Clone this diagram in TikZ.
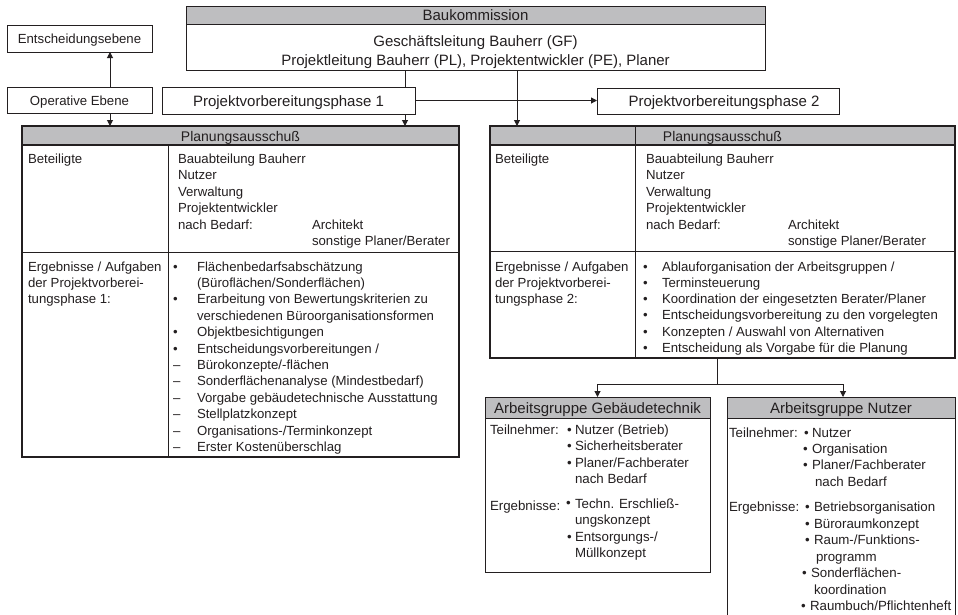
\documentclass[tikz,border=0pt]{standalone}
\usepackage{fontspec}
\setmainfont{Liberation Sans}
\usetikzlibrary{arrows.meta}
\definecolor{hdr}{RGB}{190,190,192}
\definecolor{ink}{RGB}{35,31,32}
\begin{document}
\begin{tikzpicture}[x=1pt,y=-1pt,
  box/.style={draw=ink, line width=1pt, inner sep=0pt, outer sep=0pt, anchor=north west},
  hbox/.style={box, fill=hdr},
  tbox/.style={box, line width=1.5pt},
  thbox/.style={tbox, fill=hdr},
  txt/.style={inner sep=0pt, outer sep=0pt, anchor=base west, text=ink, font=\fontsize{13.2}{16}\selectfont},
  ctxt/.style={txt, anchor=base},
  big/.style={font=\fontsize{15}{18}\selectfont},
  hd/.style={font=\fontsize{14}{17}\selectfont},
  mid/.style={font=\fontsize{13.3}{16}\selectfont},
  ln/.style={draw=ink, line width=1pt},
  arr/.style={ln, -{Triangle[length=6pt,width=6pt]}}]
\fill[white] (0,0) rectangle (958,614);
\useasboundingbox (0,0) rectangle (958,614);

% ---------- top boxes ----------
\node[hbox, minimum width=579, minimum height=18.5] (bkh) at (186,6) {};
\node[box, minimum width=579, minimum height=45.5, anchor=north] (bkb) at (bkh.south) {};
\node[ctxt, big] (bkt) at (475.5,20) {Baukommission};
\node[ctxt, big] (bk1) at (475.5,46.5) {Geschäftsleitung Bauherr (GF)};
\node[ctxt, big] (bk2) at (475.5,65) {Projektleitung Bauherr (PL), Projektentwickler (PE), Planer};

\node[box, minimum width=145, minimum height=27] (ee) at (7,25) {};
\node[ctxt] (eet) at (79.5,43.5) {Entscheidungsebene};
\node[box, minimum width=145, minimum height=26] (oe) at (7,87) {};
\node[ctxt] (oet) at (79.5,105) {Operative Ebene};
\node[box, minimum width=253, minimum height=27] (pv1) at (162,87) {};
\node[txt, big] (pv1t) at (193,106) {Projektvorbereitungsphase 1};
\node[box, minimum width=242, minimum height=26] (pv2) at (597,88) {};
\node[ctxt, big] (pv2t) at (724,106) {Projektvorbereitungsphase 2};

% ---------- left table ----------
\node[thbox, minimum width=437, minimum height=19] (lth) at (22,126) {};
\node[tbox, minimum width=437, minimum height=312, anchor=north] (ltb) at (lth.south) {};
\draw[ln] ([xshift=146pt]ltb.north west) -- ([xshift=146pt]ltb.south west);
\draw[ln] ([yshift=-107pt]ltb.north west) -- ([yshift=-107pt]ltb.north east);
\node[ctxt, hd] (ltt) at (240.5,141) {Planungsausschuß};
\node[txt] (lb0) at (28,163) {Beteiligte};
\foreach \t [count=\i] in {Bauabteilung Bauherr,Nutzer,Verwaltung,Projektentwickler,nach Bedarf:}
  \node[txt] (lp\i) at (178,{163+16.5*(\i-1)}) {\t};
\node[txt] (la1) at (312,229) {Architekt};
\node[txt] (la2) at (312,245.5) {sonstige Planer/Berater};
\foreach \t [count=\i] in {Ergebnisse / Aufgaben,der Projektvorberei-,tungsphase 1:}
  \node[txt] (le\i) at (28,{271+16.4*(\i-1)}) {\t};
\foreach \t [count=\i] in {Flächenbedarfsabschätzung,{(Büroflächen/Sonderflächen)},Erarbeitung von Bewertungskriterien zu,verschiedenen Büroorganisationsformen,Objektbesichtigungen,Entscheidungsvorbereitungen /,Bürokonzepte/-flächen,Sonderflächenanalyse (Mindestbedarf),Vorgabe gebäudetechnische Ausstattung,Stellplatzkonzept,Organisations-/Terminkonzept,Erster Kostenüberschlag}
  \node[txt] (lr\i) at (197,{271+16.4*(\i-1)}) {\t};
\foreach \i/\m in {1/•,3/•,5/•,6/•,7/–,8/–,9/–,10/–,11/–,12/–}
  \node[txt] (lm\i) at (173,{271+16.4*(\i-1)}) {\m};

% ---------- right table ----------
\node[thbox, minimum width=465, minimum height=19] (rth) at (490,126) {};
\node[tbox, minimum width=465, minimum height=213, anchor=north] (rtb) at (rth.south) {};
\draw[ln] ([xshift=145pt]rth.north west) -- ([xshift=145pt]rtb.south west);
\draw[ln] ([yshift=-106pt]rtb.north west) -- ([yshift=-106pt]rtb.north east);
\node[ctxt, hd] (rtt) at (722.5,141) {Planungsausschuß};
\node[txt] (rb0) at (495,163) {Beteiligte};
\foreach \t [count=\i] in {Bauabteilung Bauherr,Nutzer,Verwaltung,Projektentwickler,nach Bedarf:}
  \node[txt] (rp\i) at (646,{163+16.5*(\i-1)}) {\t};
\node[txt] (ra1) at (788,229) {Architekt};
\node[txt] (ra2) at (788,245.5) {sonstige Planer/Berater};
\foreach \t [count=\i] in {Ergebnisse / Aufgaben,der Projektvorberei-,tungsphase 2:}
  \node[txt] (re\i) at (495,{271+16.3*(\i-1)}) {\t};
\foreach \t [count=\i] in {Ablauforganisation der Arbeitsgruppen /,Terminsteuerung,Koordination der eingesetzten Berater/Planer,Entscheidungsvorbereitung zu den vorgelegten,Konzepten / Auswahl von Alternativen,Entscheidung als Vorgabe für die Planung}
  {\node[txt] (rr\i) at (662,{271+16.3*(\i-1)}) {\t};
   \node[txt] (rm\i) at (643,{271+16.3*(\i-1)}) {•};}

% ---------- Arbeitsgruppe Gebäudetechnik ----------
\node[hbox, minimum width=225, minimum height=21] (gth) at (485,397) {};
\node[box, minimum width=225, minimum height=154, anchor=north] (gtb) at (gth.south) {};
\node[ctxt, big] (gtt) at (597.5,413) {Arbeitsgruppe Gebäudetechnik};
\node[txt, mid] (gtl1) at (490,434.5) {Teilnehmer:};
\foreach \t [count=\i] in {Nutzer (Betrieb),Sicherheitsberater,Planer/Fachberater}
  {\node[txt, mid] (gtp\i) at (575,{434.5+16.4*(\i-1)}) {\t};
   \node[txt, mid] (gtm\i) at (567,{434.5+16.4*(\i-1)}) {•};}
\node[txt, mid] (gtp4) at (575,483.7) {nach Bedarf};
\node[txt, mid] (gtl2) at (490,510) {Ergebnisse:};
\node[txt, mid] (gte1) at (575,508) {Techn. Erschließ-};
\node[txt, mid] (gte2) at (575,524.5) {ungskonzept};
\node[txt, mid] (gte3) at (575,541) {Entsorgungs-/};
\node[txt, mid] (gte4) at (575,557.5) {Müllkonzept};
\node[txt, mid] (gtm5) at (566,507) {•};
\node[txt, mid] (gtm6) at (567,541) {•};

% ---------- Arbeitsgruppe Nutzer ----------
\node[hbox, minimum width=228, minimum height=21] (nuh) at (727,397) {};
\node[box, minimum width=228, minimum height=210, anchor=north] (nub) at (nuh.south) {};
\node[ctxt, big] (nut) at (841,413) {Arbeitsgruppe Nutzer};
\node[txt, mid] (nul1) at (729,437.5) {Teilnehmer:};
\node[txt, mid] (nup1) at (812,437.5) {Nutzer};
\node[txt, mid] (nup2) at (812,453.7) {Organisation};
\node[txt, mid] (nup3) at (812,469.9) {Planer/Fachberater};
\node[txt, mid] (nup4) at (815,486.1) {nach Bedarf};
\node[txt, mid] (num1) at (804,437.5) {•};
\node[txt, mid] (num2) at (803,453.7) {•};
\node[txt, mid] (num3) at (803,469.9) {•};
\node[txt, mid] (nul2) at (729,511.5) {Ergebnisse:};
\node[txt, mid] (nue1) at (814,511.5) {Betriebsorganisation};
\node[txt, mid] (nue2) at (814,528) {Büroraumkonzept};
\node[txt, mid] (nue3) at (814,544.5) {Raum-/Funktions-};
\node[txt, mid] (nue4) at (816,561) {programm};
\node[txt, mid] (nue5) at (811,577.5) {Sonderflächen-};
\node[txt, mid] (nue6) at (814,594) {koordination};
\node[txt, mid] (nue7) at (810,610) {Raumbuch/Pflichtenheft};
\node[txt, mid] (nun1) at (805,511.5) {•};
\node[txt, mid] (nun2) at (805,528) {•};
\node[txt, mid] (nun3) at (805,544.5) {•};
\node[txt, mid] (nun5) at (802,577.5) {•};
\node[txt, mid] (nun7) at (801,610) {•};

% ---------- connectors ----------
\coordinate (c1) at ([xshift=103pt]oe.north west);
\draw[arr] (c1) -- (c1 |- ee.south);
\coordinate (c1b) at ([xshift=103pt]oe.south west);
\draw[arr] (c1b) -- (c1b |- lth.north);
\coordinate (c2) at ([xshift=-10pt]pv1.north east);
\draw[ln] (c2 |- bkb.south) -- (c2);
\coordinate (c2b) at ([xshift=-10pt]pv1.south east);
\draw[arr] (c2b) -- (c2b |- lth.north);
\draw[arr] (pv1.east) -- (pv1.east -| pv2.west);
\coordinate (c3) at ([xshift=331pt]bkb.south west);
\draw[arr] (c3) -- (c3 |- rth.north);
\coordinate (c4) at ([xshift=227pt]rtb.south west);
\coordinate (j) at ([yshift=-26pt]c4);
\draw[ln] (c4) -- (j);
\draw[arr] (j) -| (gth.north);
\draw[arr] (j) -| ([xshift=2pt]nuh.north);
\end{tikzpicture}
\end{document}
